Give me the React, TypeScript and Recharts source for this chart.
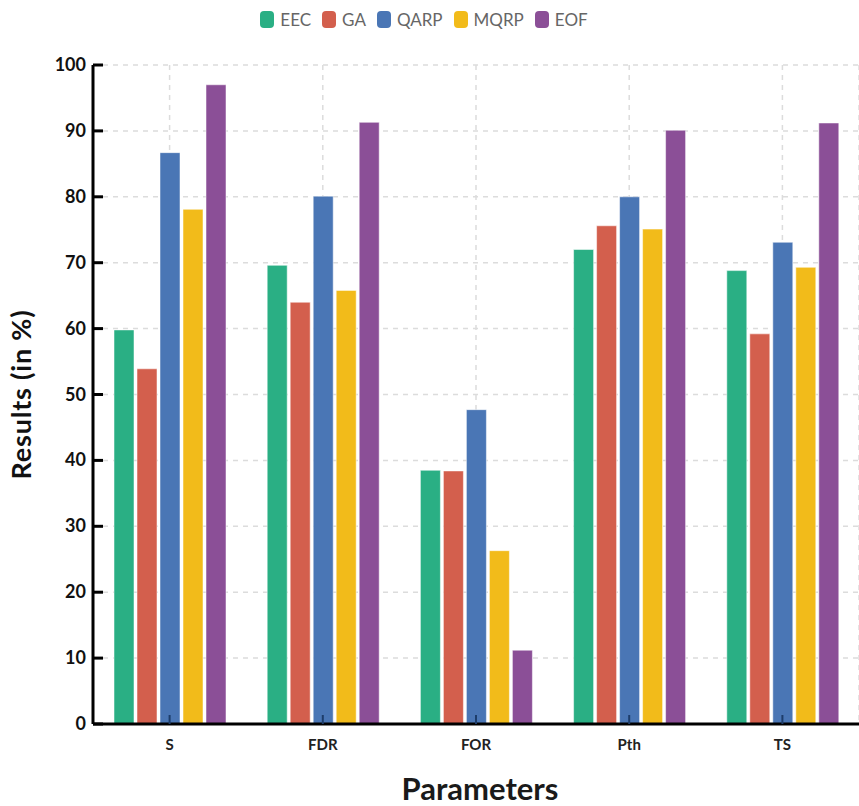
import { BarChart, Bar, XAxis, YAxis, CartesianGrid, Label } from 'recharts'

const categories = ['S', 'FDR', 'FOR', 'Pth', 'TS']
const eec = [59.8, 69.6, 38.5, 72.0, 68.8]
const ga = [53.9, 64.0, 38.4, 75.6, 59.2]
const qarp = [86.7, 80.1, 47.7, 80.0, 73.1]
const mqrp = [78.1, 65.8, 26.3, 75.1, 69.3]
const eof = [97.0, 91.3, 11.2, 90.1, 91.2]
const yTicks = [0, 10, 20, 30, 40, 50, 60, 70, 80, 90, 100]

const seriesList = [
  { key: 'EEC', color: '#2aaf84' },
  { key: 'GA', color: '#d35f4d' },
  { key: 'QARP', color: '#4a76b5' },
  { key: 'MQRP', color: '#f2bb1a' },
  { key: 'EOF', color: '#8b4f97' }
]

const data = categories.map((name, i) => ({
  name,
  EEC: eec[i],
  GA: ga[i],
  QARP: qarp[i],
  MQRP: mqrp[i],
  EOF: eof[i]
}))

const FONT = 'Lato, "Open Sans", sans-serif'

const YTick = ({ x, y, payload }: any) => (
  <g>
    <line x1={x} y1={y} x2={x + 10} y2={y} stroke='#000' strokeWidth={3} />
    <text x={x - 7} y={y} dy={6} textAnchor='end' fontSize={18} fontWeight={700} fill='#111' fontFamily={FONT}>
      {payload.value}
    </text>
  </g>
)

const XTick = ({ x, y, payload }: any) => (
  <g>
    <line x1={x} y1={y} x2={x} y2={y - 9} stroke='#1d3d6b' strokeWidth={2} />
    <text x={x} y={y + 26} textAnchor='middle' fontSize={15} fontWeight={700} fill='#222' fontFamily={FONT}>
      {payload.value}
    </text>
  </g>
)

const XTitle = ({ viewBox }: any) => (
  <text
    x={viewBox.x + viewBox.width / 2 + 4}
    y={800}
    textAnchor='middle'
    fontSize={31}
    fontWeight={700}
    fill='#1a1a1a'
    fontFamily={FONT}
  >
    Parameters
  </text>
)

const YTitle = ({ viewBox }: any) => {
  const cy = viewBox.y + viewBox.height / 2
  return (
    <text
      x={31}
      y={cy}
      transform={`rotate(-90, 31, ${cy})`}
      textAnchor='middle'
      fontSize={27}
      letterSpacing={0.8}
      fontWeight={700}
      fill='#111'
      fontFamily={FONT}
    >
      Results (in %)
    </text>
  )
}

// legend sits above the plot, outside the chart's own layout
const LegendRow = () => (
  <div
    style={{
      position: 'absolute',
      top: 9,
      left: 0,
      width: 848,
      display: 'flex',
      justifyContent: 'center',
      gap: 11,
      fontFamily: FONT
    }}
  >
    {seriesList.map(s => (
      <div key={s.key} style={{ display: 'flex', alignItems: 'center' }}>
        <span style={{ display: 'inline-block', width: 14, height: 17, borderRadius: 4, background: s.color, marginRight: 6 }} />
        <span style={{ fontSize: 17, color: '#666' }}>{s.key}</span>
      </div>
    ))}
  </div>
)

const App = () => {
  return (
    <div style={{ position: 'absolute', left: 0, top: 0, width: 859, height: 806, background: '#fff' }}>
      <LegendRow />
      <BarChart
        width={859}
        height={806}
        data={data}
        margin={{ top: 65, right: 0, left: 1, bottom: 0 }}
        barSize={20}
        barGap={3}
      >
        <CartesianGrid stroke='#dcdcdc' strokeDasharray='5 5' strokeWidth={1.5} />
        <XAxis
          dataKey='name'
          height={82}
          axisLine={{ stroke: '#000', strokeWidth: 3 }}
          tickLine={false}
          tickSize={0}
          tickMargin={0}
          tick={<XTick />}
        >
          <Label content={<XTitle />} />
        </XAxis>
        <YAxis
          width={92}
          domain={[0, 100]}
          ticks={yTicks}
          interval={0}
          axisLine={{ stroke: '#000', strokeWidth: 3 }}
          tickLine={false}
          tickSize={0}
          tickMargin={0}
          tick={<YTick />}
        >
          <Label content={<YTitle />} />
        </YAxis>
        {seriesList.map(s => (
          <Bar
            key={s.key}
            dataKey={s.key}
            fill={s.color}
            stroke='#ffffff'
            strokeOpacity={0.5}
            strokeWidth={1}
            isAnimationActive={false}
          />
        ))}
      </BarChart>
    </div>
  )
}

export default App
